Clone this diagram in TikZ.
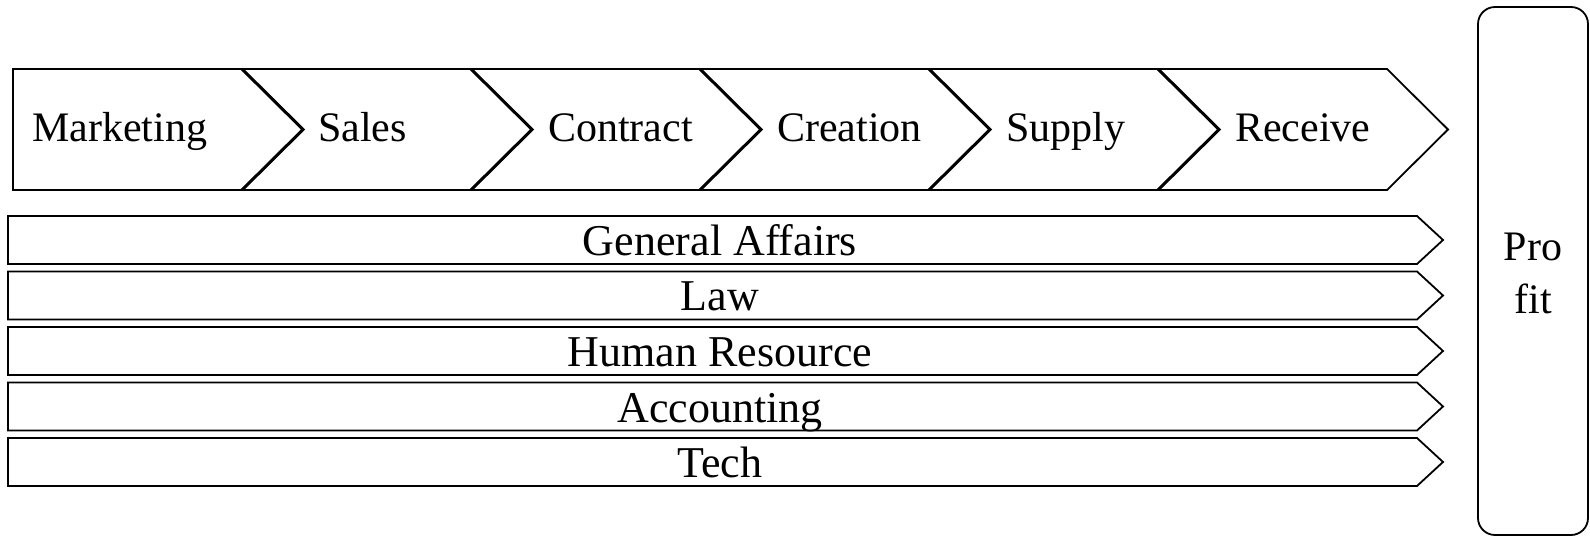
\documentclass[tikz,border=0pt]{standalone}
\usepackage{fontspec}
\setmainfont{Liberation Serif}
\begin{document}
\begin{tikzpicture}[x=1pt,y=-1pt,
  outline/.style={draw=black,line width=1.8pt,line join=miter,fill=white},
  notch/.style={draw=black,line width=3pt},
  lbl/.style={inner sep=0pt,font=\fontsize{42}{53}\selectfont},
  barlbl/.style={inner sep=0pt,font=\fontsize{44}{53}\selectfont},
]
\useasboundingbox (0,0) rectangle (1590,537);
% top chevrons
\draw[outline] (13,69) -- (242,69) -- (303,129.5) -- (242,190) -- (13,190) -- cycle;
\foreach \i in {1,...,5}{
  \pgfmathsetmacro{\xo}{13+229*\i}
  \draw[outline] (\xo,69) -- (\xo+229,69) -- (\xo+290,129.5) -- (\xo+229,190) -- (\xo,190) -- (\xo+61,129.5) -- cycle;
  \draw[notch] (\xo,69) -- (\xo+61,129.5) -- (\xo,190);
}
\node[lbl,anchor=base west] (mkt) at (32,142) {Marketing};
\node[lbl,anchor=base west] (sal) at (318,142) {Sales};
\node[lbl,anchor=base west] (con) at (548,142) {Contract};
\node[lbl,anchor=base west] (cre) at (777,142) {Creation};
\node[lbl,anchor=base west] (sup) at (1006,142) {Supply};
\node[lbl,anchor=base west] (rec) at (1235,142) {Receive};
% bars
\foreach \t/\n/\name in {216/General Affairs/ga,271.5/Law/law,327/Human Resource/hr,382.5/Accounting/acc,438/Tech/tech}{
  \draw[outline] (8,\t) -- (1417,\t) -- (1443,\t+24) -- (1417,\t+48) -- (8,\t+48) -- cycle;
  \node[barlbl,anchor=base] (\name) at (720,\t+39.5) {\n};
}
% profit
\draw[outline,rounded corners=17pt] (1478,7) rectangle (1588,535);
\node[lbl,align=center] (profit) at (1533,273) {Pro\\fit};
\end{tikzpicture}
\end{document}
